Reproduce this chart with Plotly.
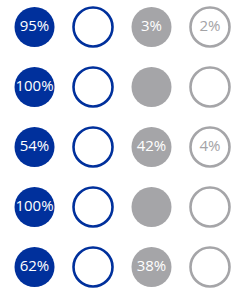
import plotly.graph_objects as go

rows = [0, 1, 2, 3, 4]
col_blue_fill = ["95%", "100%", "54%", "100%", "62%"]
col_blue_ring = ["", "", "", "", ""]
col_gray_fill = ["3%", "", "42%", "", "38%"]
col_gray_ring = ["2%", "", "4%", "", ""]

BLUE = "#00309C"
GRAY = "#A5A5A8"
GRAY_TXT = "#A3A3A6"

fig = go.Figure()

def add_col(idx, texts, fill, line, txtcolor, lw):
    fig.add_trace(go.Scatter(
        x=[idx] * len(rows), y=rows, mode="markers+text",
        text=texts, textposition="middle center",
        textfont=dict(family="Open Sans", size=15, color=txtcolor),
        marker=dict(size=40 if lw == 0 else 39, color=fill, symbol="circle",
                    line=dict(color=line, width=lw)),
        hoverinfo="skip", showlegend=False, cliponaxis=False))

add_col(0, col_blue_fill, BLUE, BLUE, "white", 0)
add_col(1, col_blue_ring, "white", BLUE, BLUE, 2.6)
add_col(2, col_gray_fill, GRAY, GRAY, "white", 0)
add_col(3, col_gray_ring, "white", GRAY, GRAY_TXT, 2.6)

fig.update_layout(
    width=240, height=291,
    margin=dict(l=0, r=0, t=0, b=0),
    paper_bgcolor="white", plot_bgcolor="white",
    xaxis=dict(range=[-0.59, 3.513], visible=False, fixedrange=True),
    yaxis=dict(range=[4.4, -0.45], visible=False, fixedrange=True),
)
fig.write_html("out.html", config={"displayModeBar": False},
               post_script="document.body.style.margin='0';document.body.style.overflow='hidden';")
